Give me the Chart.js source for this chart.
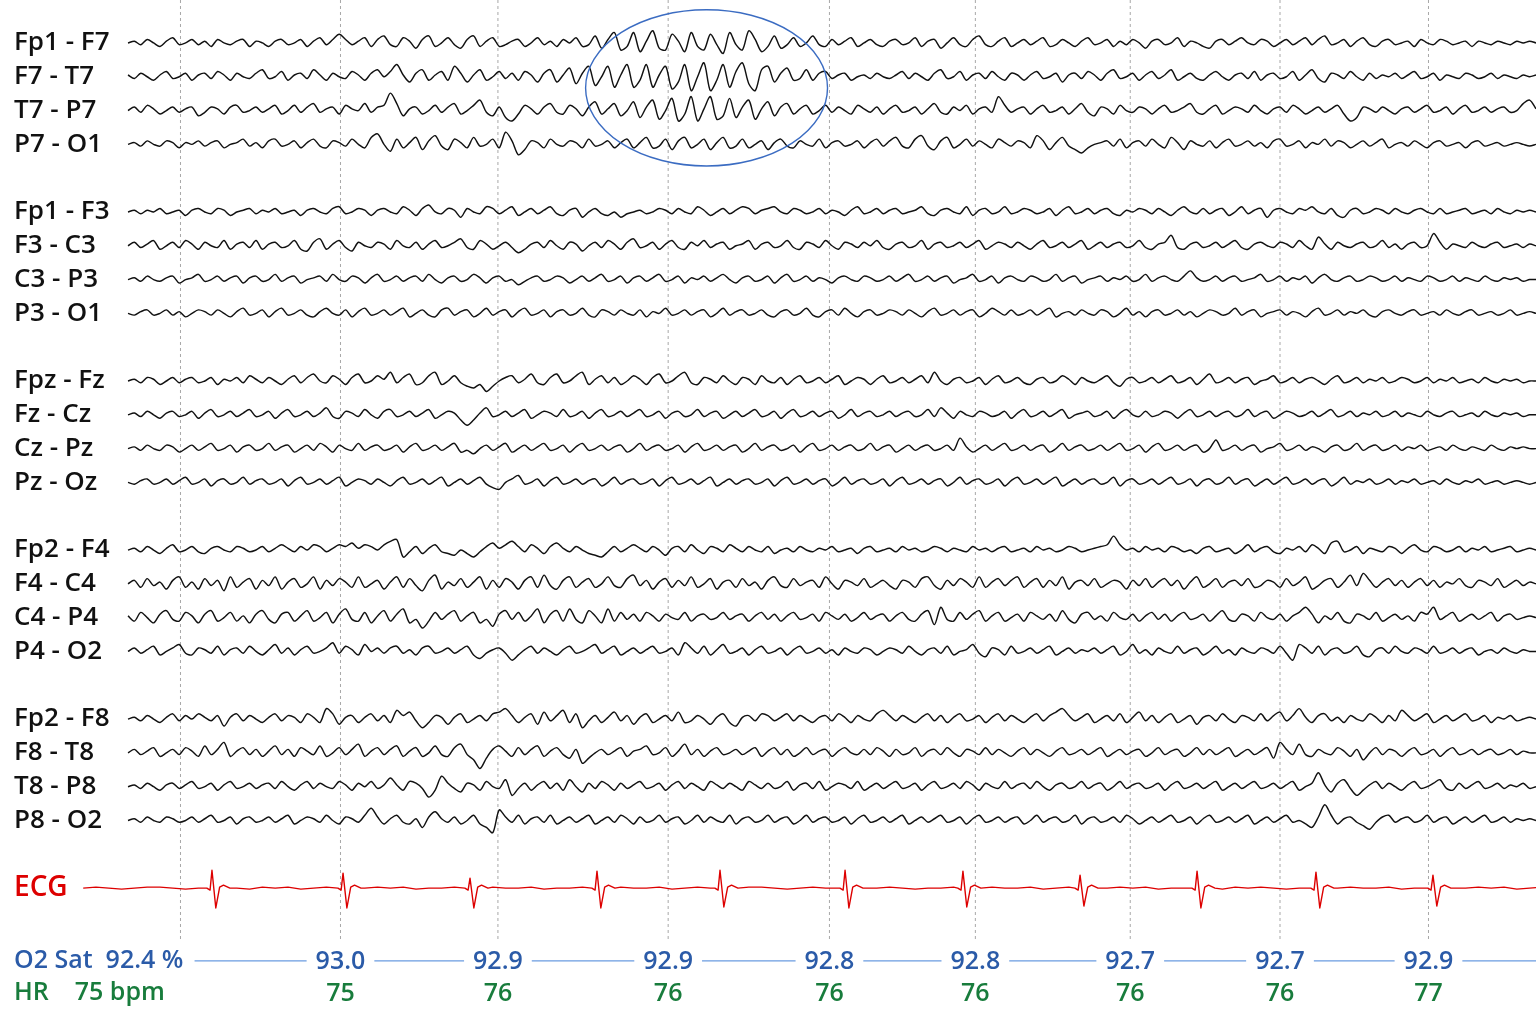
<!DOCTYPE html>
<html>
<head>
<meta charset="utf-8">
<script src="https://cdn.jsdelivr.net/npm/chart.js@4.4.1/dist/chart.umd.min.js"></script>
<style>
html,body{margin:0;padding:0;background:#fff;}
#wrap{width:1536px;height:1024px;position:relative;}
</style>
</head>
<body>
<div id="wrap"><canvas id="c"></canvas></div>
<script>
// ---------- labels ----------
const channelLabels = ["Fp1 - F7","F7 - T7","T7 - P7","P7 - O1",
  "Fp1 - F3","F3 - C3","C3 - P3","P3 - O1",
  "Fpz - Fz","Fz - Cz","Cz - Pz","Pz - Oz",
  "Fp2 - F4","F4 - C4","C4 - P4","P4 - O2",
  "Fp2 - F8","F8 - T8","T8 - P8","P8 - O2"];
const channelRows = [0,1,2,3, 5,6,7,8, 10,11,12,13, 15,16,17,18, 20,21,22,23];
const ecgLabel = "ECG";
const ecgRow = 25;
const o2Label = "O2 Sat  92.4 %";
const hrLabel = "HR    75 bpm";
const o2Row = 27.15;
const hrRow = 28.1;

// ---------- time axis (s) ----------
const gridTimes = [0.41, 1.66, 2.89, 4.22, 5.48, 6.62, 7.83, 9.00, 10.16];
const vitalTimes = [1.66, 2.89, 4.22, 5.48, 6.62, 7.83, 9.00, 10.16];
const o2Values = [93.0, 92.9, 92.9, 92.8, 92.8, 92.7, 92.7, 92.9];
const hrValues = [75, 76, 76, 76, 76, 76, 76, 77];
const eegStep = 0.05;   // 20 samples per second
const eegEnd = 11.0;
const eegSensitivity = 1.75; // display gain of the EEG traces

// ---------- EEG samples (µV, positive up) ----------
const fp1_f7 = [0,1,-1,2,0,-2,1,3,-1,0,2,-1,1,-2,2,0,-1,1,2,-2,
1,0,-2,1,2,-1,0,2,-2,1,3,-1,2,5,2,-1,1,3,-2,2,
4,-1,-2,3,1,-3,2,4,-2,0,3,-1,-3,2,4,-2,1,3,-2,-1,
1,2,-2,0,3,-1,1,-2,2,0,3,-2,-1,4,-3,2,6,-4,-2,6,
-5,1,7,-3,-4,5,1,-5,6,-2,-4,5,-1,-6,6,-1,-4,7,2,-5,
-2,4,-3,-1,3,-2,0,4,-1,-2,2,-1,1,3,-2,0,2,-1,-2,1,
2,-1,0,3,-2,1,2,-3,0,3,-1,-2,2,4,-1,-2,1,3,-2,0,
2,-1,1,3,-2,-1,2,0,-2,1,3,-1,0,2,-2,1,-1,2,0,-3,
1,2,-1,0,3,-2,1,0,-2,-3,1,2,-1,1,3,0,-1,2,1,-2,
0,2,-1,1,3,-1,2,4,-1,0,2,-2,1,3,-1,-2,1,2,-1,0,
1,-2,2,0,-1,2,1,-1,0,1,-2,1,0,-1,1,0,-1,1,0,1,0];
const f7_t7 = [1,-1,2,0,-2,1,3,-1,0,2,-2,1,2,-1,3,1,-2,2,0,-1,
2,4,-1,0,3,-2,1,2,-1,4,1,-2,2,0,-1,3,1,-2,2,4,
0,3,7,1,-3,2,4,-2,1,3,-2,6,2,-3,1,4,-2,0,3,-1,
2,-2,3,1,-3,2,4,-3,1,5,-4,2,6,-5,0,6,-6,1,7,-6,
-2,7,-6,1,6,-7,-3,7,-8,0,8,-8,-2,7,-6,3,8,-4,-8,4,
6,-3,2,5,-2,-1,4,-2,2,3,-1,1,2,-2,0,1,-1,2,0,-1,
1,3,-1,2,0,-2,2,4,-1,0,3,-2,1,2,-1,3,0,-2,2,1,
-2,1,3,-1,0,2,-3,1,2,-1,3,1,-2,2,4,-1,0,2,-2,1,
3,-1,1,4,-2,0,2,-1,-2,1,3,0,-2,1,2,-1,3,-2,1,2,
-1,0,3,-2,1,4,-1,-3,2,1,-1,3,0,-2,2,-1,1,0,2,-1,
1,3,-1,0,2,-2,1,0,-1,2,1,-1,0,2,-1,1,0,-1,1,0,1];
const t7_p7 = [0,2,-1,3,1,-2,0,2,-1,1,2,-3,-1,2,1,-2,2,3,-1,0,
2,-1,1,3,-2,0,3,-1,2,4,-1,1,2,-2,3,1,0,4,-1,2,
3,10,4,-3,1,2,-2,0,3,-1,2,4,-2,0,3,6,-1,-3,2,-4,
-6,-2,3,1,-2,2,4,-1,-2,3,1,-3,2,5,-2,1,4,-3,0,5,
-4,2,6,-5,0,7,-6,-2,8,-6,1,8,-5,-3,7,-4,2,6,-5,1,
5,-3,2,4,-2,1,3,-2,0,3,-1,2,0,-2,3,1,-1,2,-2,1,
3,-1,0,2,-2,1,4,-1,-2,2,0,3,-2,1,2,-1,8,3,-1,1,
2,-2,1,3,-1,0,2,-2,1,4,-1,-3,2,1,-2,3,0,-1,2,1,
-2,1,3,-1,0,2,4,-1,-2,1,3,-2,0,2,1,-1,3,0,-2,1,
2,-1,3,1,-2,0,2,-1,1,3,-2,-6,-4,2,1,-1,2,0,-2,1,
2,-1,1,3,-1,0,2,-2,1,3,-1,0,2,-1,1,2,-1,0,4,6,1];
const p7_o1 = [0,1,-1,2,0,-1,2,1,-2,1,0,2,-1,1,2,-2,0,1,3,-1,
1,-2,2,3,-1,0,2,-2,1,3,-1,-2,2,1,-1,3,0,-2,4,6,
0,-4,3,-2,1,4,-3,2,5,-1,-3,3,1,-2,4,-1,0,3,-2,7,
2,-6,-3,2,1,-2,3,0,-1,2,1,-2,3,-1,0,2,-2,1,3,-2,
1,4,-2,-1,3,-3,2,4,-2,0,3,-3,1,4,-2,-1,3,-2,0,2,
-3,1,3,-1,-2,2,0,-1,3,-2,1,2,-1,0,2,-2,1,3,-1,2,
4,-1,-2,3,5,-1,-3,2,4,-2,0,3,-1,2,0,-2,3,1,-1,2,
1,-2,5,2,-3,1,4,-1,-3,-5,-2,0,1,2,-1,3,-2,1,2,-1,
3,0,-2,4,1,-3,2,0,-1,2,-2,1,3,-1,0,2,-1,1,-2,2,
3,-1,0,2,-2,1,0,3,-1,2,1,-2,0,2,-1,1,3,-2,0,1,
-1,2,0,-2,1,2,-1,0,1,-2,1,2,-1,0,1,-1,0,1,0,-1,0];
const fp1_f3 = [0,1,-1,1,0,2,-1,0,1,-2,1,2,0,-1,2,1,-2,0,1,2,
-1,1,0,2,-1,0,1,-2,1,2,0,-1,2,3,-1,0,2,1,-2,1,
2,0,-1,3,1,-2,2,4,0,-1,2,1,-3,2,0,-1,3,2,-1,1,
3,-2,0,2,-1,1,3,-1,-2,1,2,-3,0,2,-1,-2,0,-3,-1,0,
1,-1,0,2,1,-1,2,0,-1,3,1,-2,0,2,-1,1,3,2,-1,1,
2,3,0,-1,2,1,-1,0,2,-1,1,0,-2,1,3,-1,0,2,-1,1,
2,-1,0,1,3,-1,-2,1,2,0,-1,3,-2,1,2,-1,0,3,-1,0,
2,1,-1,0,2,-2,1,3,-1,0,2,-1,1,2,-1,-2,1,0,2,1,
-1,2,0,-2,1,3,0,-1,2,-1,1,2,-2,0,3,-1,1,2,-3,1,
2,0,-1,2,1,3,0,-1,2,-2,-3,1,2,-1,0,2,1,-1,2,0,
-1,1,2,0,-1,2,-1,0,1,2,-1,0,1,-1,2,0,-1,1,0,1,0];
const f3_c3 = [0,2,-1,1,3,-2,0,2,-1,3,1,-2,2,0,-1,3,-2,1,2,-1,
3,-2,1,2,-1,0,3,-2,-3,2,4,-2,1,3,-1,-3,2,0,-1,2,
1,-2,3,0,-1,2,-2,1,3,-1,0,2,4,-1,-2,3,1,-2,0,2,
-1,-4,-2,1,2,-1,3,0,-2,2,1,-3,0,2,-1,3,1,-2,2,4,
-1,0,2,-2,1,3,-1,-2,2,0,3,-1,1,2,-2,0,1,3,-2,1,
2,-1,0,3,-1,-2,2,1,-1,3,0,-2,2,1,-1,2,0,3,-1,-2,
1,2,-1,0,3,-2,1,2,-1,0,2,-1,1,3,-2,0,2,1,-1,2,
0,-2,1,3,-1,0,2,-1,1,3,-2,0,2,-1,1,2,-1,0,3,-1,
-2,1,2,6,-1,-2,1,2,-1,0,2,-1,1,3,-1,-2,1,2,0,-1,
2,1,-1,3,0,-2,5,1,-2,2,0,-1,1,2,-1,0,3,-1,1,-2,
1,2,-1,0,7,2,-2,1,0,-1,2,0,-1,1,2,-1,0,1,-1,1,0];
const c3_p3 = [0,1,-1,2,0,-1,1,2,-2,0,1,3,-1,0,2,-1,1,2,-2,1,
2,-1,0,3,-1,1,2,-2,0,1,2,-1,3,0,-1,2,1,-2,1,3,
-1,0,2,-1,1,2,-1,3,0,-2,1,2,-1,0,3,1,-2,1,2,-1,
0,-3,-1,1,2,-1,0,2,1,-2,0,2,-1,1,3,-1,0,2,-2,1,
2,-1,1,3,-1,0,2,-2,1,0,2,-1,1,3,0,-2,1,2,-1,0,
2,-2,1,3,-1,0,2,-1,1,0,-2,1,2,0,-1,2,1,-1,0,2,
-1,1,3,-1,0,2,-1,1,2,-2,0,1,3,-1,0,2,-2,1,2,0,
-1,2,1,-1,0,3,-1,1,2,-2,0,1,2,-1,1,0,2,-1,0,3,
-1,1,2,0,-1,2,5,1,-1,0,2,-1,1,2,-1,0,1,3,-1,0,
2,-1,1,0,2,-2,1,3,0,-1,1,2,-1,0,2,1,-1,0,2,-1,
1,0,-1,2,1,-1,0,2,-1,1,0,-1,2,0,-1,1,0,1,-1,0,0];
const p3_o1 = [0,-1,1,2,-1,0,2,-1,1,-2,0,2,1,-1,2,0,-2,1,3,-1,
0,2,-2,1,3,-1,0,2,-1,-2,1,3,0,-1,2,-2,1,3,-1,0,
2,-1,1,3,-2,0,2,-1,-2,2,3,-1,1,2,-2,0,3,-1,1,2,
-2,1,3,-1,0,2,-2,1,2,-1,0,3,-1,-2,2,1,-1,2,0,-1,
2,-2,1,0,3,-1,0,2,-1,1,2,-2,0,3,-1,1,2,-1,0,2,
-1,-2,1,2,-1,0,3,-1,-2,1,2,-1,3,0,-2,1,2,-1,0,2,
1,-1,2,0,-2,1,3,-1,0,2,-1,1,2,-2,0,3,1,-1,2,-1,
0,2,-1,1,3,-2,0,1,-1,2,0,-1,2,1,-2,0,3,-1,1,-2,
1,2,-1,0,2,-1,1,-2,0,2,1,-1,0,3,-1,1,2,-2,0,1,
2,-1,1,0,-2,1,3,-1,0,2,-1,1,0,2,-1,-2,1,2,0,-1,
1,2,-1,0,1,-1,2,0,-1,1,2,-1,0,1,-1,0,2,-1,0,1,0];
const fpz_fz = [0,1,-1,2,1,-2,0,2,-1,1,2,-1,0,2,-2,1,0,2,-1,3,
1,-1,2,0,-2,1,3,-1,2,4,0,-1,3,1,-2,2,4,-1,0,3,
1,5,-1,2,4,-2,-1,3,5,-2,0,3,-1,-3,-4,-2,-6,-3,0,2,
3,-1,1,4,-1,-2,2,4,-1,0,3,5,-2,1,3,-1,2,-2,0,3,
1,-2,2,4,-1,0,3,5,-1,-2,2,1,-1,3,0,-2,2,1,-2,3,
0,-1,2,-2,1,3,-1,0,2,-1,1,3,-2,0,2,1,-2,1,3,-1,
0,2,-1,1,3,-1,5,0,-2,1,2,-1,0,2,-2,1,3,-1,0,2,
-1,-2,1,2,-1,0,3,1,-2,2,0,-1,1,3,-1,-3,1,2,-1,0,
2,-1,1,3,-1,0,2,-2,1,4,-1,0,2,-1,1,2,-2,0,1,3,
-1,0,2,-1,1,2,0,-2,1,3,-1,0,2,-1,1,0,2,-1,0,2,
1,-1,0,2,-1,1,0,2,-1,0,1,-1,2,0,-1,1,0,1,-1,0,0];
const fz_cz = [0,1,-1,2,0,-2,1,2,-1,0,2,-2,1,3,-1,0,2,-1,1,3,
-1,0,2,-2,1,3,-1,0,2,-1,1,4,-1,-2,2,1,-1,3,0,-2,
2,3,-1,0,2,-1,1,3,-2,0,2,1,-3,-6,-3,1,4,-1,0,2,
-1,1,3,-2,0,2,1,-1,3,-1,0,2,-2,1,3,-1,0,2,-1,1,
3,-1,0,2,-2,1,2,-1,0,3,-1,1,2,-2,0,2,-1,1,3,-1,
0,2,-2,1,3,-1,0,2,-1,1,2,-2,0,3,-1,1,2,-1,0,2,
-1,1,2,-1,0,3,-1,4,1,-2,2,0,-1,2,1,-1,0,2,-2,1,
3,-1,0,2,-1,1,3,-2,0,1,2,-1,0,2,-2,1,3,0,-1,2,
-1,0,2,1,-2,1,3,-1,0,2,-1,1,2,-1,0,3,-1,1,2,-2,
0,2,1,-1,0,2,-1,1,3,-1,0,2,-1,1,0,2,-1,0,2,-1,
1,0,-1,2,0,-1,1,2,-1,0,1,-1,2,0,-1,1,0,1,-1,0,0];
const cz_pz = [0,1,-1,2,0,-1,2,1,-2,0,2,-1,1,3,-1,0,2,-2,1,2,
-1,0,3,-1,1,2,-2,0,2,-1,3,1,-2,2,0,-1,3,-1,1,2,
-1,0,2,-2,1,3,-1,0,2,-1,1,3,-2,-1,-3,0,2,-1,1,3,
-2,0,2,-1,1,3,-1,0,2,-2,1,3,-1,0,2,-1,1,2,-2,0,
3,-1,1,2,-1,0,2,-2,1,3,-1,0,2,-1,1,2,-2,0,3,-1,
1,2,-1,0,2,-2,1,3,-1,0,2,-1,1,2,-1,0,3,-1,1,2,
-2,0,2,-1,1,2,-1,0,2,-1,6,1,-2,0,2,-1,1,3,-1,0,
2,-1,1,2,-2,0,3,-1,1,2,-1,0,2,-1,1,3,-1,0,2,-2,
1,3,-1,0,2,-1,1,2,-2,0,5,-1,0,2,-1,1,2,-2,0,1,
3,-1,0,2,-1,1,0,-2,1,2,-1,0,3,-1,1,2,-1,0,2,-1,
1,0,2,-1,0,1,-1,2,0,-1,1,0,-1,2,0,-1,1,0,1,0,0];
const pz_oz = [0,-1,1,2,-1,0,2,-1,1,3,-1,0,2,-2,1,2,-1,0,3,-1,
1,2,-1,0,2,-2,1,3,-1,0,2,-1,1,3,-2,0,2,1,-1,2,
0,-2,1,3,-1,0,2,-1,1,3,-2,0,2,-1,1,3,-1,-3,-4,0,
2,4,-1,0,2,-2,1,3,-1,0,2,-1,1,2,-2,0,3,-1,1,2,
-1,0,2,-2,1,3,-1,0,2,-1,1,3,-2,0,2,-1,1,2,-1,0,
2,-2,1,3,-1,0,2,-1,1,2,-2,0,3,-1,1,2,-1,0,2,-2,
1,3,-1,0,2,-1,1,2,-2,0,3,-1,1,2,-1,0,2,-2,1,3,
-1,0,2,-1,1,3,-2,0,2,-1,1,2,-1,0,3,-2,1,2,-1,0,
2,-1,1,3,-1,0,2,-2,1,2,-1,0,3,-1,1,2,-2,0,2,-1,
1,3,-1,0,2,-1,1,2,-2,0,3,-1,1,0,2,-1,0,2,-1,1,
0,2,-1,0,1,-1,2,0,-1,1,0,2,-1,0,1,-1,0,1,0,-1,0];
const fp2_f4 = [0,1,-1,2,0,-2,1,3,-1,0,2,-1,-2,1,2,0,-1,2,1,-1,
0,2,-1,1,3,1,-1,2,0,3,2,-1,1,3,2,4,1,3,2,0,
3,5,6,-4,-1,2,-2,1,3,-1,-2,-3,0,-2,-4,-1,2,4,1,3,
5,2,-1,3,1,-2,2,4,1,-1,2,0,-2,-3,-4,-1,2,-1,1,3,
1,-1,2,0,-3,1,2,-1,3,0,-2,2,1,-1,3,1,-1,2,0,-1,
2,-2,0,1,-1,2,0,-1,1,0,2,-1,0,1,-2,1,2,-1,0,1,
-1,2,0,1,-1,0,2,1,-1,1,0,-1,2,0,1,-1,1,2,-1,0,
1,-1,2,0,1,-1,0,2,1,-1,0,1,2,3,8,3,0,1,-1,2,
0,1,-1,2,1,-1,0,-2,1,2,-1,0,1,-2,0,3,-1,1,2,-1,
-2,1,0,2,-1,3,1,-2,4,5,-1,0,2,-2,1,0,-1,2,1,-2,
1,3,0,-1,2,1,-1,0,2,-1,1,0,2,-1,0,1,2,-1,0,1,0];
const f4_c4 = [0,2,-2,3,-1,1,-3,2,4,-2,1,-3,3,-1,2,-4,4,-2,1,3,
-3,2,-1,4,-3,1,3,-2,0,4,-3,2,-1,3,1,-2,4,-2,0,2,
-3,1,4,-2,3,-1,-4,2,5,-3,1,-1,3,-2,1,4,-3,2,-2,3,
1,-3,2,4,-2,5,-1,-3,2,4,-2,1,3,-2,0,4,-1,-2,3,5,
-1,2,-3,1,3,-2,2,-1,4,-2,0,3,-3,1,2,-2,3,-1,1,-3,
2,4,-1,-2,3,-1,1,2,-2,4,0,-3,2,1,-1,3,-2,0,2,-1,
-3,2,1,-2,3,4,-1,-3,2,-1,3,1,-2,4,-2,1,3,-1,2,4,
-2,1,3,-2,2,-1,4,-3,1,2,-1,3,-2,0,2,1,-3,2,-1,3,
-2,1,3,-1,2,-3,1,4,-2,0,3,-2,1,2,-1,3,-2,-1,2,1,
-2,3,-1,1,4,-3,-1,2,3,-2,1,5,-1,6,2,-2,1,3,-1,2,
-2,1,3,-1,2,-2,1,0,3,-1,-2,2,1,-1,3,-2,0,2,-1,1,0];
const c4_p4 = [1,-2,3,0,-3,2,4,-1,-2,3,1,-3,2,4,-2,0,3,-2,1,-3,
2,4,-1,-3,2,3,-2,1,4,-2,0,3,-3,2,5,-1,-2,3,-3,1,
4,-2,2,5,-3,-1,-6,-2,3,-1,2,4,-2,1,3,-3,-1,-5,2,4,
-1,3,-2,1,5,-3,2,4,-2,5,-1,-3,4,1,-3,5,-2,3,-1,2,
-2,3,1,-2,2,0,-1,3,-2,1,2,-1,0,3,-1,1,2,-2,1,3,
-1,2,-2,1,3,-1,0,2,-2,3,1,-1,2,-2,0,3,-1,1,2,-2,
1,3,-1,-2,2,4,-4,6,-1,-2,3,-1,2,4,-2,1,3,-2,0,2,
-2,3,1,-1,2,-2,4,-1,-3,2,3,-1,1,-2,3,0,-1,2,-2,1,
3,-1,2,-2,1,3,-1,0,2,-2,1,4,-1,-2,2,1,-2,3,0,-1,
2,-2,1,3,6,2,-3,1,-1,3,-2,-3,2,1,-1,3,-2,0,2,-1,
1,-2,3,2,6,-1,1,3,-2,0,2,-1,1,3,-2,1,2,-1,0,1,0];
const p4_o2 = [0,2,-1,1,3,-2,0,2,4,-1,-2,2,1,-1,3,-2,1,2,-1,3,
0,-2,1,4,-1,2,-2,1,3,-1,0,2,5,-1,3,1,-2,4,0,2,
-1,2,3,-1,1,-2,2,3,-1,0,2,-1,1,3,-2,-4,-1,1,2,-1,
-5,-2,1,3,-1,2,0,-2,1,3,-1,0,2,4,-1,1,3,-2,0,2,
-1,1,3,-1,0,2,-2,5,2,-1,3,-2,1,4,-1,0,2,-2,1,3,
-1,0,2,-2,1,3,-1,0,2,-1,1,-2,2,0,-1,2,1,-2,0,2,
1,-1,3,0,-2,1,2,-1,3,-2,0,1,4,-1,-3,2,1,-2,3,-1,
0,2,-1,1,3,-2,0,2,-1,1,0,2,-1,1,3,-2,0,4,-1,1,
-2,2,0,-1,3,-1,1,2,-2,0,3,-1,1,-2,2,0,-1,2,1,-1,
3,-1,-5,4,2,-1,3,-2,1,2,-1,0,3,-2,-3,1,2,-1,3,0,
-1,2,1,-1,3,-1,0,2,-1,1,2,-2,0,1,-1,2,0,-1,1,0,0];
const fp2_f8 = [0,1,-1,2,0,-2,1,3,-1,2,0,3,1,-1,2,-4,1,3,-1,2,
0,-2,1,3,-1,2,1,-2,3,1,-2,6,3,-3,1,2,-2,1,3,-1,
2,-2,5,2,4,-1,-5,-2,2,1,-3,1,3,-2,0,2,-1,3,4,6,
2,-2,1,3,-3,4,-1,2,5,-2,3,-5,-1,2,-2,1,4,-1,2,-3,
1,3,-2,0,2,-1,4,-2,-1,2,0,-3,1,3,-2,-4,1,2,-1,3,
2,-1,1,3,-1,2,0,-2,1,2,-1,3,1,-2,2,0,-1,3,5,2,
-1,2,0,-2,1,3,-1,2,-2,1,3,-1,0,2,-2,1,3,-1,2,0,
-2,1,3,-1,2,4,6,2,-1,1,3,-2,0,2,-1,3,-2,1,4,-1,
2,-2,1,3,-2,0,2,-3,1,2,-1,3,0,-2,2,1,-1,3,-1,2,
4,-1,2,6,1,-2,2,3,-1,1,-2,2,0,-1,3,1,-2,2,-1,5,
2,-1,1,3,-2,0,2,-1,1,3,-1,0,2,-2,1,0,2,-1,0,1,0];
const f8_t8 = [0,2,-1,1,3,-2,0,2,-1,3,1,-2,4,-1,2,6,-2,1,3,-1,
2,-2,1,4,-1,2,-2,3,1,-1,4,-2,0,3,-1,2,5,-2,1,3,
-1,2,4,-2,1,3,-2,0,4,-1,-2,3,5,-1,-4,-9,-3,2,4,1,
-2,3,-1,2,4,-2,1,3,-1,-3,2,-6,-3,0,2,-1,1,3,-2,1,
2,4,-1,0,3,-2,1,5,-1,2,-2,1,3,-1,0,2,-1,1,3,-2,
1,3,-1,2,-2,0,3,-1,1,2,-2,1,3,0,-1,2,-1,3,1,-2,
2,-1,0,3,-2,1,2,-1,3,0,-2,2,1,-1,3,-1,2,0,-2,1,
3,-1,2,0,-2,1,3,-1,0,2,-1,1,3,-2,0,2,-1,1,2,-2,
0,3,-1,1,2,-2,0,3,-1,2,-1,1,3,-2,0,2,-1,1,3,-3,
6,2,-1,5,-1,-2,2,0,-1,3,1,-2,2,-4,0,3,-1,2,1,-2,
1,3,-1,0,2,-2,1,3,-1,0,2,-1,1,2,-1,0,2,-1,1,0,0];
const t8_p8 = [0,1,-1,2,0,-2,1,2,-1,1,3,-1,0,2,-2,1,3,-1,0,2,
-1,1,2,-1,3,0,-2,1,3,-1,2,0,-1,3,1,-2,2,0,3,-1,
1,5,1,-2,3,2,-1,-6,-2,6,2,-1,-3,2,1,-2,3,0,-1,4,
-5,-1,2,-2,1,3,-1,2,-2,4,0,-3,2,-1,3,1,-2,2,-1,1,
3,-1,0,2,-2,1,3,-1,2,0,-2,3,1,-1,2,0,-2,3,1,-1,
2,-1,0,3,-2,1,2,-1,3,-2,0,2,1,-1,3,-2,0,2,-1,1,
3,-1,0,2,-2,1,3,-1,0,2,-1,3,1,-2,2,0,-1,3,-1,1,
2,-1,3,0,-2,1,2,-1,0,3,-1,1,2,-2,0,3,-1,1,2,-1,
0,2,-2,1,3,-1,0,2,-1,1,3,-2,0,2,-1,1,3,-1,0,2,
-1,1,3,-2,0,2,8,1,-3,2,4,-1,-5,-2,1,3,-1,2,0,-2,
1,3,-1,0,2,4,-1,-2,2,-1,1,3,-1,0,2,-1,1,0,2,-1,0];
const p8_o2 = [0,1,-1,2,0,-1,2,1,-1,0,2,-1,1,3,-1,0,2,-2,1,2,
-1,0,2,-1,1,3,-2,0,2,1,-1,3,0,-2,2,1,-1,3,7,2,
-2,1,3,-1,-2,1,-4,2,5,1,-1,2,-2,0,3,-2,-4,-7,6,2,
-1,3,-2,1,2,-1,3,-2,0,2,-1,1,3,-2,0,2,-1,3,1,-2,
2,-1,0,3,-1,1,2,-2,0,3,-1,2,0,-1,3,-2,1,2,-1,0,
3,-1,1,2,-2,0,3,-1,1,2,-1,0,2,-2,1,3,-1,0,2,-1,
1,3,-2,0,2,-1,1,3,-1,0,2,-2,1,3,-1,0,2,-1,1,2,
-2,0,3,-1,1,2,-1,0,3,-2,1,2,-1,0,2,-1,3,1,-2,0,
2,-1,1,3,-1,0,2,-2,1,3,-1,0,2,-1,1,3,-2,0,2,-1,
1,3,-1,0,-2,-4,2,9,3,-2,1,2,-1,-3,-5,-1,2,3,-1,1,
2,-1,0,3,-1,1,2,-2,0,2,-1,1,3,-1,0,2,-1,1,0,1,0];

const eegSeries = [fp1_f7, f7_t7, t7_p7, p7_o1, fp1_f3, f3_c3, c3_p3, p3_o1,
  fpz_fz, fz_cz, cz_pz, pz_oz, fp2_f4, f4_c4, c4_p4, p4_o2, fp2_f8, f8_t8, t8_p8, p8_o2];

// ---------- ECG ----------
const ecgStart = -0.35;
const ecgStep = 0.1;
const ecgBaseline = [0,1,0,-1,0,1,1,0,-1,0,1,0,0,-1,1,0,1,-1,0,
1,0,-1,0,1,0,1,-1,0,0,1,0,-1,1,0,0,1,-1,0,
0,1,-1,0,1,0,0,1,-1,0,1,0,-1,0,1,1,0,-1,0,
1,0,0,-1,1,0,1,0,-1,0,0,1,-1,0,1,0,0,1,-1,
0,1,0,-1,0,1,0,1,-1,0,0,1,0,-1,1,0,1,0,-1,
0,1,-1,0,1,0,0,1,-1,0,1,0,-1,0,1,0,1,-1,0,1];
const beatTimes = [0.656, 1.68, 2.672, 3.664, 4.625, 5.602, 6.523, 7.438, 8.352, 9.281, 10.195];
const beatR = [18, 15, 10, 17, 18, 18, 17, 13, 17, 16, 13];
const beatS = [20, 20, 20, 20, 19, 20, 19, 18, 20, 20, 18];
const qrsOffsets = [-0.04, -0.015, 0, 0.03, 0.06, 0.09, 0.14];
const qrsBefore = -2;
const qrsAfterBump = 3;

// ---------- annotation (time s, row) ----------
const highlightCenter = [4.52, 1.33];
const highlightRadius = [0.945, 2.31];

// ---------- layout constants ----------
const ROW_GAP = 34;
const TOP_ROWS = 1.27, BOTTOM_ROWS = 29.02;
const GRID_BOTTOM_ROW = 26.54;
const o2LineStart = 0.52;
const xMin = -1, xMax = 11;
const BLUE = '#2b5ba8', LIGHT_BLUE = '#6a9be0', GREEN = '#187c3c', RED = '#dd0000';

const rowY = r => -r * ROW_GAP;

// ---------- datasets ----------
const datasets = [];
eegSeries.forEach((arr, k) => {
  const base = rowY(channelRows[k]);
  const pts = [];
  arr.forEach((v, i) => { const t = i * eegStep; if (t <= eegEnd + 1e-9) pts.push({x: t, y: base + v * eegSensitivity}); });
  datasets.push({data: pts, borderColor: '#111', borderWidth: 1.45, tension: 0.3});
});

// ECG
(function(){
  const base = rowY(ecgRow);
  const pts = [];
  ecgBaseline.forEach((v, i) => {
    const t = ecgStart + i * ecgStep;
    if (beatTimes.some(b => t > b - 0.05 && t < b + 0.16)) return;
    pts.push({x: t, y: base + v});
  });
  beatTimes.forEach((b, j) => {
    const vals = [0, qrsBefore, beatR[j], -beatS[j], 1, qrsAfterBump, 0];
    qrsOffsets.forEach((o, m) => pts.push({x: b + o, y: base + vals[m]}));
  });
  pts.sort((a, b) => a.x - b.x);
  datasets.push({data: pts, borderColor: RED, borderWidth: 1.4});
})();

// O2 line
datasets.push({data: [{x: o2LineStart, y: rowY(o2Row)}, {x: xMax, y: rowY(o2Row)}], borderColor: LIGHT_BLUE, borderWidth: 1.2});

// grid lines (drawn last => underneath)
gridTimes.forEach(t => {
  datasets.push({data: [{x: t, y: ROW_GAP * TOP_ROWS}, {x: t, y: rowY(GRID_BOTTOM_ROW)}],
    borderColor: '#a8a8a8', borderWidth: 1, borderDash: [3, 3]});
});

// ---------- y tick labels ----------
const labelRows = channelRows.concat([ecgRow, o2Row, hrRow]);
const labelTexts = channelLabels.concat([ecgLabel, o2Label, hrLabel]);
const nCh = channelLabels.length;

const overlay = {
  id: 'overlay',
  afterDatasetsDraw(chart) {
    const {ctx, scales: {x, y}} = chart;
    ctx.save();
    // highlight ellipse
    const cx = x.getPixelForValue(highlightCenter[0]);
    const cy = y.getPixelForValue(rowY(highlightCenter[1]));
    const rx = Math.abs(x.getPixelForValue(highlightCenter[0] + highlightRadius[0]) - cx);
    const ry = Math.abs(y.getPixelForValue(rowY(highlightCenter[1] + highlightRadius[1])) - cy);
    ctx.beginPath();
    ctx.ellipse(cx, cy, rx, ry, 0, 0, Math.PI * 2);
    ctx.strokeStyle = '#3b6cc2';
    ctx.lineWidth = 1.4;
    ctx.stroke();
    // vitals
    ctx.font = '600 25px "Open Sans", sans-serif';
    ctx.textAlign = 'center';
    ctx.textBaseline = 'middle';
    const o2y = y.getPixelForValue(rowY(o2Row));
    const hry = y.getPixelForValue(rowY(hrRow));
    vitalTimes.forEach((t, i) => {
      const px = x.getPixelForValue(t);
      const txt = o2Values[i].toFixed(1);
      const w = ctx.measureText(txt).width;
      ctx.fillStyle = '#fff';
      ctx.fillRect(px - w / 2 - 9, o2y - 13, w + 18, 26);
      ctx.fillStyle = BLUE;
      ctx.fillText(txt, px, o2y + 1);
      ctx.fillStyle = GREEN;
      ctx.fillText(String(hrValues[i]), px, hry + 1);
    });
    ctx.restore();
  }
};

Chart.defaults.font.family = '"Open Sans", "Noto Sans", sans-serif';

new Chart(document.getElementById('c'), {
  type: 'line',
  data: {datasets},
  options: {
    responsive: true,
    maintainAspectRatio: false,
    animation: false,
    events: [],
    layout: {padding: 0},
    elements: {point: {radius: 0}, line: {tension: 0, borderJoinStyle: 'round'}},
    plugins: {legend: {display: false}, tooltip: {enabled: false}},
    scales: {
      x: {type: 'linear', min: xMin, max: xMax, display: false},
      y: {
        type: 'linear',
        min: -ROW_GAP * BOTTOM_ROWS,
        max: ROW_GAP * TOP_ROWS,
        afterFit: s => { s.width = 0; s.paddingTop = 0; s.paddingBottom = 0; },
        afterBuildTicks: s => { s.ticks = labelRows.map(r => ({value: rowY(r)})); },
        grid: {display: false, drawTicks: false},
        border: {display: false},
        ticks: {
          mirror: true,
          padding: 14,
          autoSkip: false,
          callback: (v, i) => labelTexts[i],
          color: ctx => ctx.index < nCh ? '#111' : (ctx.index === nCh ? RED : (ctx.index === nCh + 1 ? BLUE : GREEN)),
          font: ctx => ctx.index < nCh ? {size: 26, weight: '600'} : (ctx.index === nCh ? {size: 28, weight: '600'} : {size: 25, weight: '600'})
        }
      }
    }
  },
  plugins: [overlay]
});
</script>
</body>
</html>
